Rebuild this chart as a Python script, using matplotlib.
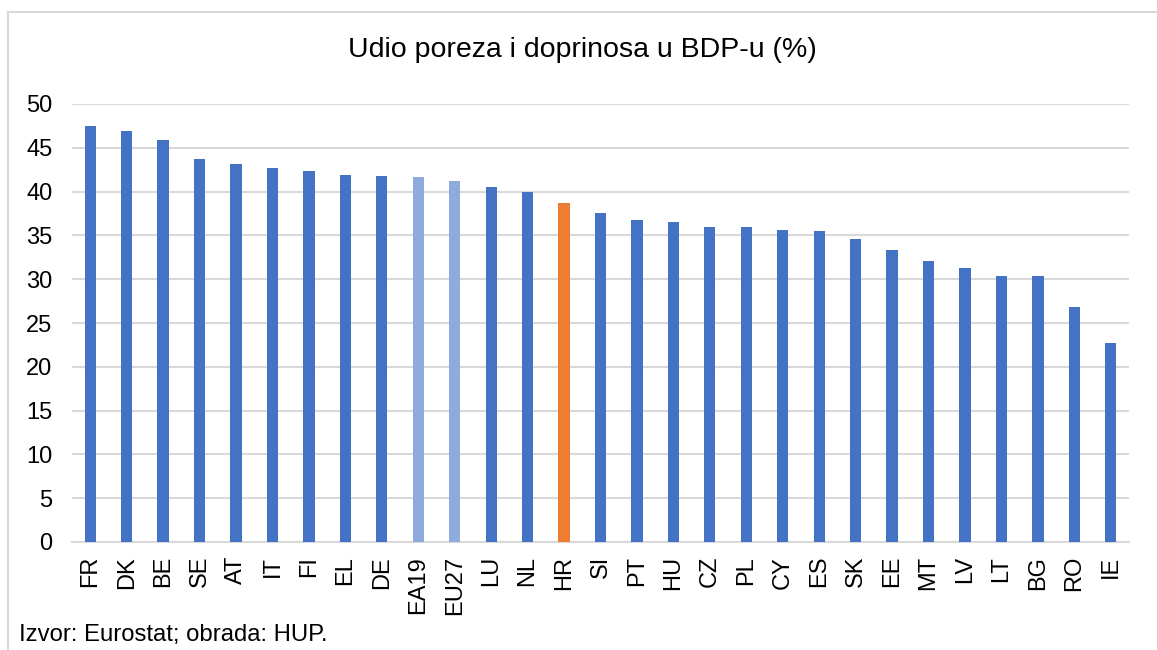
import matplotlib
matplotlib.use("Agg")
import matplotlib.pyplot as plt
from matplotlib.lines import Line2D

plt.rcParams['font.family'] = ['Liberation Sans', 'DejaVu Sans']

countries = ['FR', 'DK', 'BE', 'SE', 'AT', 'IT', 'FI', 'EL', 'DE', 'EA19', 'EU27',
             'LU', 'NL', 'HR', 'SI', 'PT', 'HU', 'CZ', 'PL', 'CY', 'ES', 'SK',
             'EE', 'MT', 'LV', 'LT', 'BG', 'RO', 'IE']
values = [47.5, 46.9, 45.9, 43.7, 43.2, 42.7, 42.4, 41.9, 41.8, 41.7, 41.2,
          40.5, 39.9, 38.7, 37.6, 36.8, 36.5, 36.0, 36.0, 35.6, 35.5, 34.6,
          33.3, 32.1, 31.3, 30.4, 30.4, 26.8, 22.7]

BLUE = '#4472C4'
LIGHT = '#8FAADC'
ORANGE = '#ED7D31'
colors = []
for c in countries:
    if c in ('EA19', 'EU27'):
        colors.append(LIGHT)
    elif c == 'HR':
        colors.append(ORANGE)
    else:
        colors.append(BLUE)

fig = plt.figure(figsize=(11.57, 6.5), dpi=100)
ax = fig.add_axes([72/1157, 1 - 542/650, (1129 - 72)/1157, (542 - 104)/650])

x = range(len(countries))
ax.bar(x, values, width=0.31, color=colors, zorder=3)

ax.set_xlim(-0.5, len(countries) - 0.5)
ax.set_ylim(0, 50)
ax.set_yticks(range(0, 51, 5))
ax.yaxis.grid(True, color='#D9D9D9', linewidth=1.5, zorder=0)
ax.set_axisbelow(True)
ax.set_xticks(list(x))
ax.set_xticklabels(countries, rotation=90, fontsize=17)
ax.tick_params(axis='x', length=0, pad=10)
ax.tick_params(axis='y', length=0, pad=14, labelsize=17)
for s in ['left', 'right', 'top']:
    ax.spines[s].set_visible(False)
ax.spines['bottom'].set_color('#D9D9D9')
ax.spines['bottom'].set_linewidth(1.5)

fig.text(582/1157, 1 - 50/650, 'Udio poreza i doprinosa u BDP-u (%)',
         ha='center', va='center', fontsize=20.5)
fig.text(19/1157, 1 - 635/650, 'Izvor: Eurostat; obrada: HUP.',
         ha='left', va='center', fontsize=17.2)

# chart frame
fig.add_artist(Line2D([8/1157, 1], [1 - 12/650] * 2, color='#D9D9D9', linewidth=1.5))
fig.add_artist(Line2D([8/1157] * 2, [0, 1 - 12/650], color='#D9D9D9', linewidth=1.5))

fig.savefig('out.png', dpi=100)
